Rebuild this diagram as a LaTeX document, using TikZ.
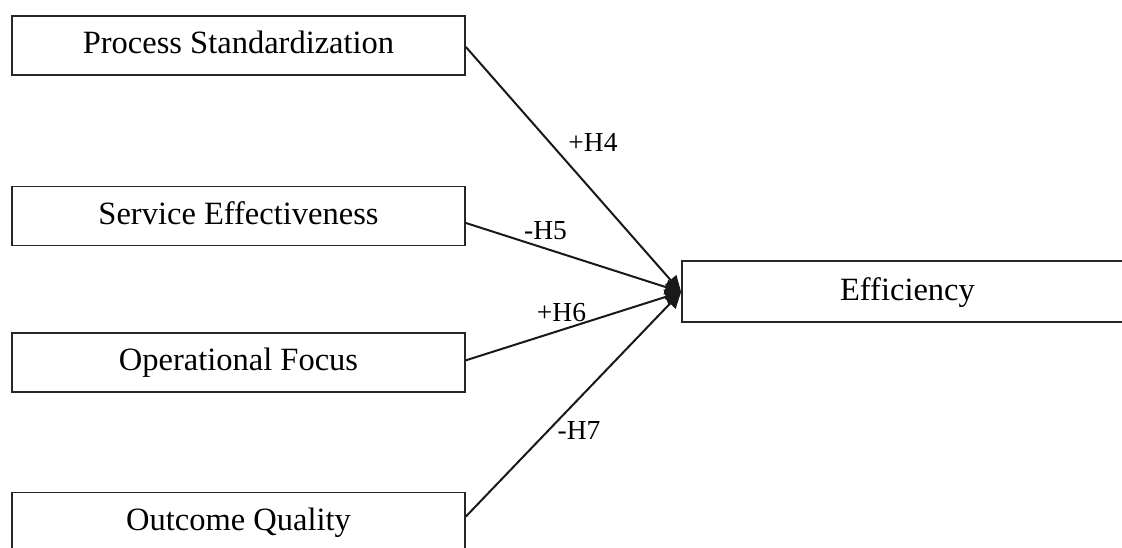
\documentclass[tikz,border=0pt]{standalone}
\usepackage{fontspec}
\setmainfont{Liberation Serif}
\usetikzlibrary{arrows.meta,calc}
\begin{document}
\begin{tikzpicture}[x=1pt,y=-1pt,
  box/.style={draw=black!85, line width=1.8pt, fill=white, minimum width=453pt, minimum height=59pt,
    inner sep=0pt, text height=22pt, text depth=5pt, font=\fontsize{32.5}{39}\selectfont},
  conn/.style={line width=2pt, black!90, -{Triangle[length=16pt,width=15pt]}},
  lab/.style={inner sep=0pt, font=\fontsize{27.5}{33}\selectfont}]
\useasboundingbox (0,0) rectangle (1122,548);
\node[box] (ps) at (238.5,45.5) {Process Standardization};
\node[box] (se) at (238.5,216) {Service Effectiveness};
\node[box] (of) at (238.5,362.3) {Operational Focus};
\node[box] (oq) at (238.5,522) {Outcome Quality};
\node[box, minimum width=451pt, minimum height=61pt] (ef) at (907.5,291.5) {Efficiency};
\coordinate (tip) at ($(ef.west)+(0,0.5)$);
\draw[conn] ($(ps.east)+(0,1.5)$) -- (tip);
\draw[conn] ($(se.east)+(0,7)$) -- (tip);
\draw[conn] ($(of.east)+(0,-2)$) -- (tip);
\draw[conn] ($(oq.east)+(0,-5.5)$) -- (tip);
\node[lab] (h4) at (593,142) {+H4};
\node[lab] (h5) at (545.5,231) {-H5};
\node[lab] (h6) at (561.5,312.5) {+H6};
\node[lab] (h7) at (579,430) {-H7};
\end{tikzpicture}
\end{document}
